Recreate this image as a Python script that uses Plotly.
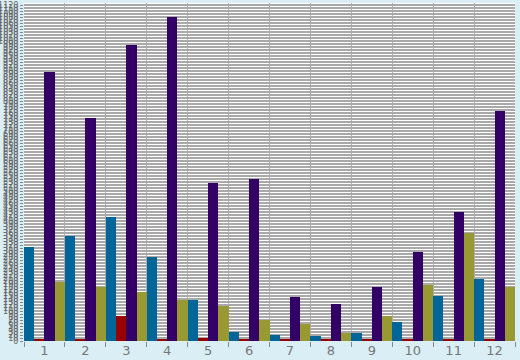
import plotly.graph_objects as go

categories = [str(i) for i in range(1, 13)]
series_names = ["Blue", "Red", "Purple", "Olive"]
blue = [313, 350, 413, 280, 137, 30, 20, 17, 27, 63, 150, 207]
red = [5, 4, 83, 4, 10, 4, 4, 4, 4, 4, 7, 4]
purple = [897, 743, 987, 1080, 527, 540, 147, 123, 180, 297, 430, 767]
olive = [197, 180, 163, 137, 117, 70, 57, 27, 83, 187, 360, 180]
colors = ["#006699", "#990000", "#330066", "#999933"]

fig = go.Figure()
for name, vals, c in zip(series_names, [blue, red, purple, olive], colors):
    fig.add_trace(go.Bar(x=categories, y=vals, name=name, marker=dict(color=c, line=dict(width=0))))

fig.update_layout(
    width=520, height=360,
    margin=dict(l=24, r=5, t=3, b=19, autoexpand=False),
    paper_bgcolor="#daeef6",
    plot_bgcolor="#ffffff",
    barmode="group", bargap=0, bargroupgap=0,
    showlegend=False,
    xaxis=dict(
        type="category", tickson="boundaries", ticks="outside", ticklen=5,
        tickcolor="#888888", showgrid=True, gridcolor="#b0b0b0", gridwidth=1,
        tickfont=dict(family="DejaVu Sans", size=13, color="#777777"),
        showline=False, zeroline=False, automargin=False,
    ),
    yaxis=dict(
        range=[0, 1127], dtick=10, showgrid=True, gridcolor="#a9a9a9", gridwidth=2,
        ticks="outside", ticklen=3, tickcolor="#888888", tickangle=0,
        tickfont=dict(family="DejaVu Sans", size=8, color="#666666"),
        zeroline=False, showline=False, automargin=False,
    ),
)
fig.write_html(
    "out.html",
    config={"displayModeBar": False},
    post_script="document.body.style.margin='0';document.body.style.background='#daeef6';",
)
